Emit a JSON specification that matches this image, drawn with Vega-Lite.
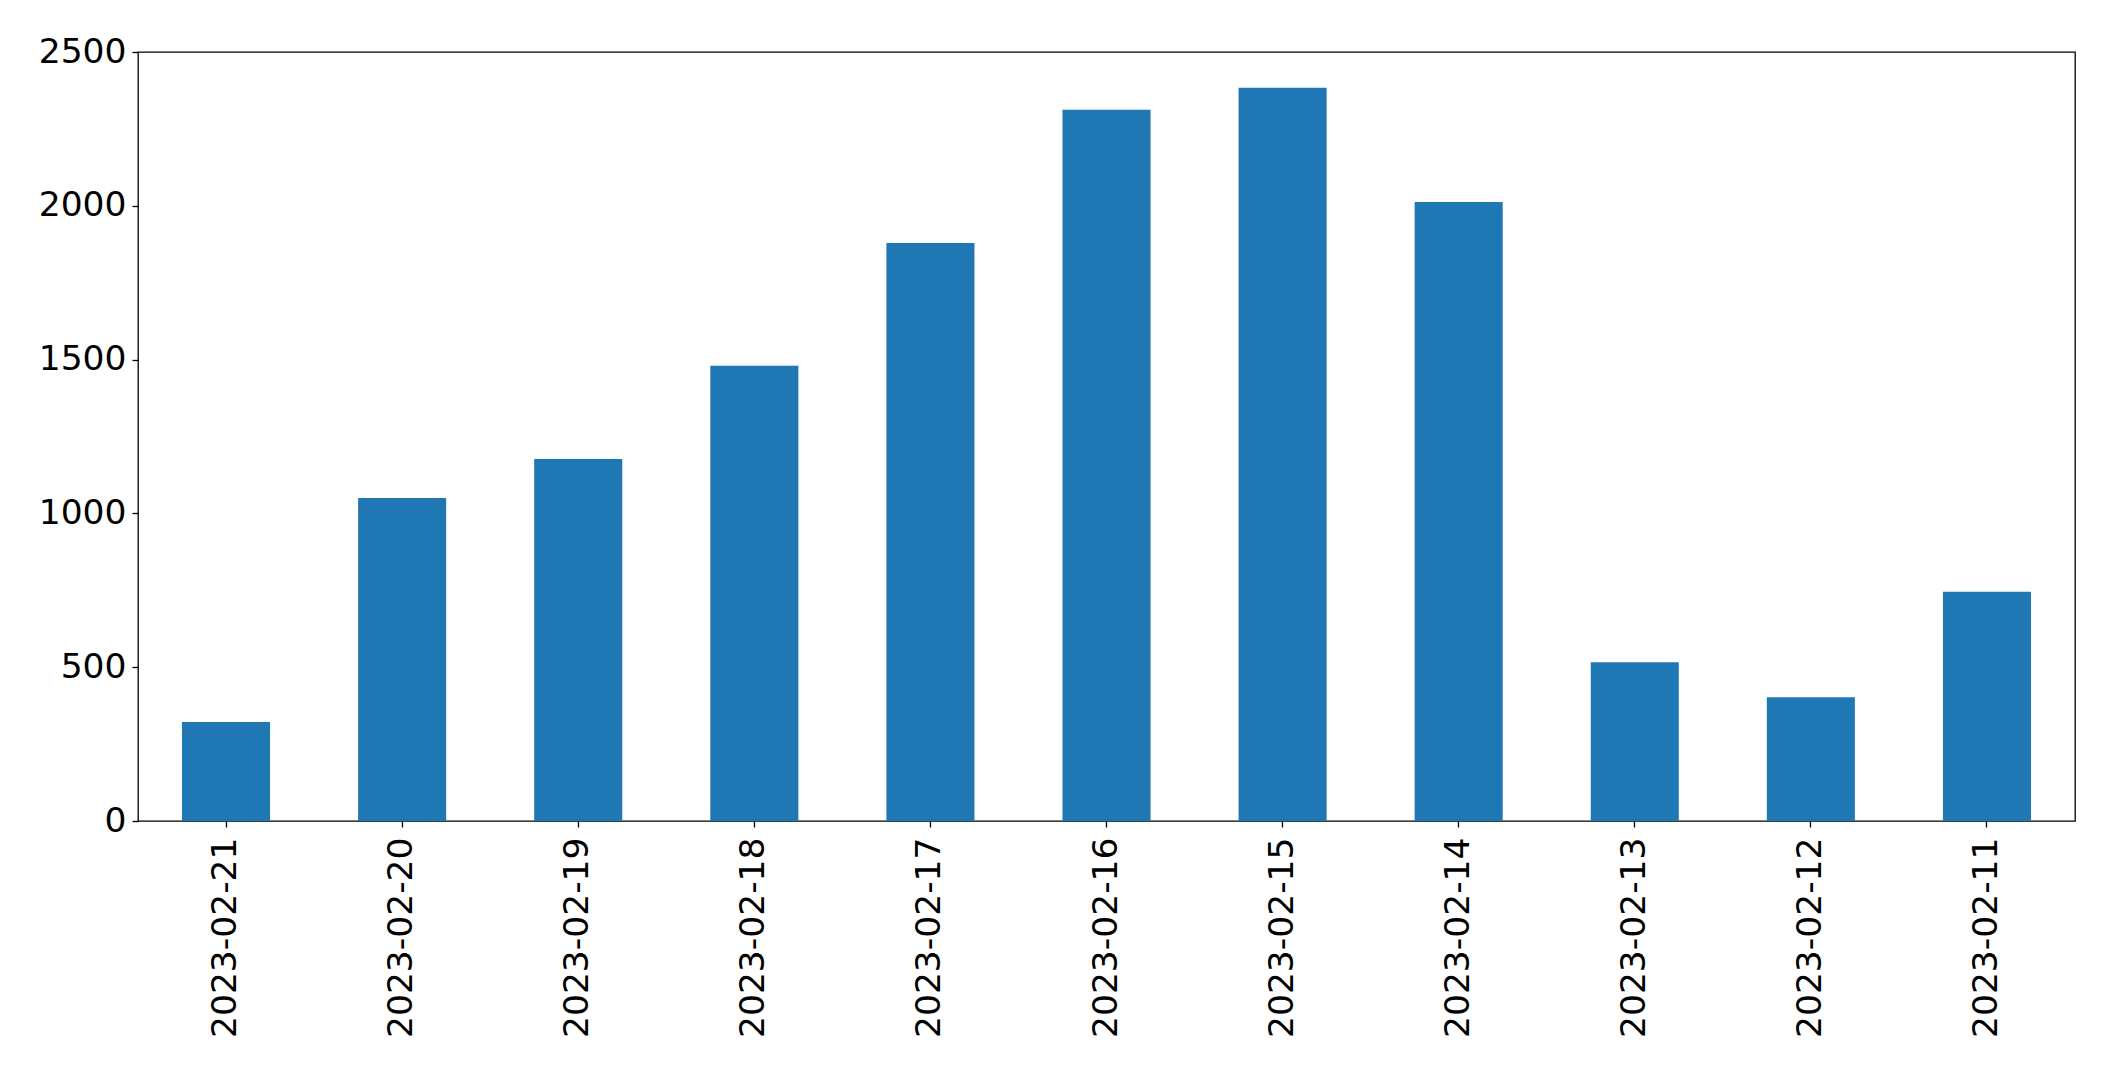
{
  "$schema": "https://vega.github.io/schema/vega-lite/v6.json",
  "width": 1937,
  "height": 769,
  "autosize": {"type": "none"},
  "padding": {"left": 138, "top": 52, "right": 40, "bottom": 252},
  "background": "white",
  "data": {
    "values": [
      {"date": "2023-02-21", "count": 322},
      {"date": "2023-02-20", "count": 1050},
      {"date": "2023-02-19", "count": 1177},
      {"date": "2023-02-18", "count": 1480},
      {"date": "2023-02-17", "count": 1879},
      {"date": "2023-02-16", "count": 2312},
      {"date": "2023-02-15", "count": 2384},
      {"date": "2023-02-14", "count": 2012},
      {"date": "2023-02-13", "count": 516},
      {"date": "2023-02-12", "count": 402},
      {"date": "2023-02-11", "count": 745}
    ]
  },
  "mark": {"type": "bar", "color": "#1f77b4"},
  "encoding": {
    "x": {
      "field": "date",
      "type": "nominal",
      "sort": null,
      "scale": {"paddingInner": 0.5, "paddingOuter": 0.25},
      "axis": {
        "title": null,
        "labelAngle": -90,
        "labelFontSize": 34.5,
        "labelPadding": 10,
        "labelLimit": 0,
        "domain": false,
        "ticks": true,
        "tickSize": 6,
        "tickWidth": 1.3,
        "tickColor": "black",
        "labelColor": "black",
        "labelFont": "DejaVu Sans"
      }
    },
    "y": {
      "field": "count",
      "type": "quantitative",
      "scale": {"domain": [0, 2500], "nice": false},
      "axis": {
        "title": null,
        "values": [0, 500, 1000, 1500, 2000, 2500],
        "format": "d",
        "grid": false,
        "labelFontSize": 34.5,
        "labelPadding": 6,
        "domain": false,
        "tickSize": 6,
        "tickWidth": 1.3,
        "tickColor": "black",
        "labelColor": "black",
        "labelFont": "DejaVu Sans",
        "labelBaseline": "middle"
      }
    }
  },
  "config": {
    "view": {"stroke": "black", "strokeWidth": 1.3},
    "font": "DejaVu Sans"
  }
}
